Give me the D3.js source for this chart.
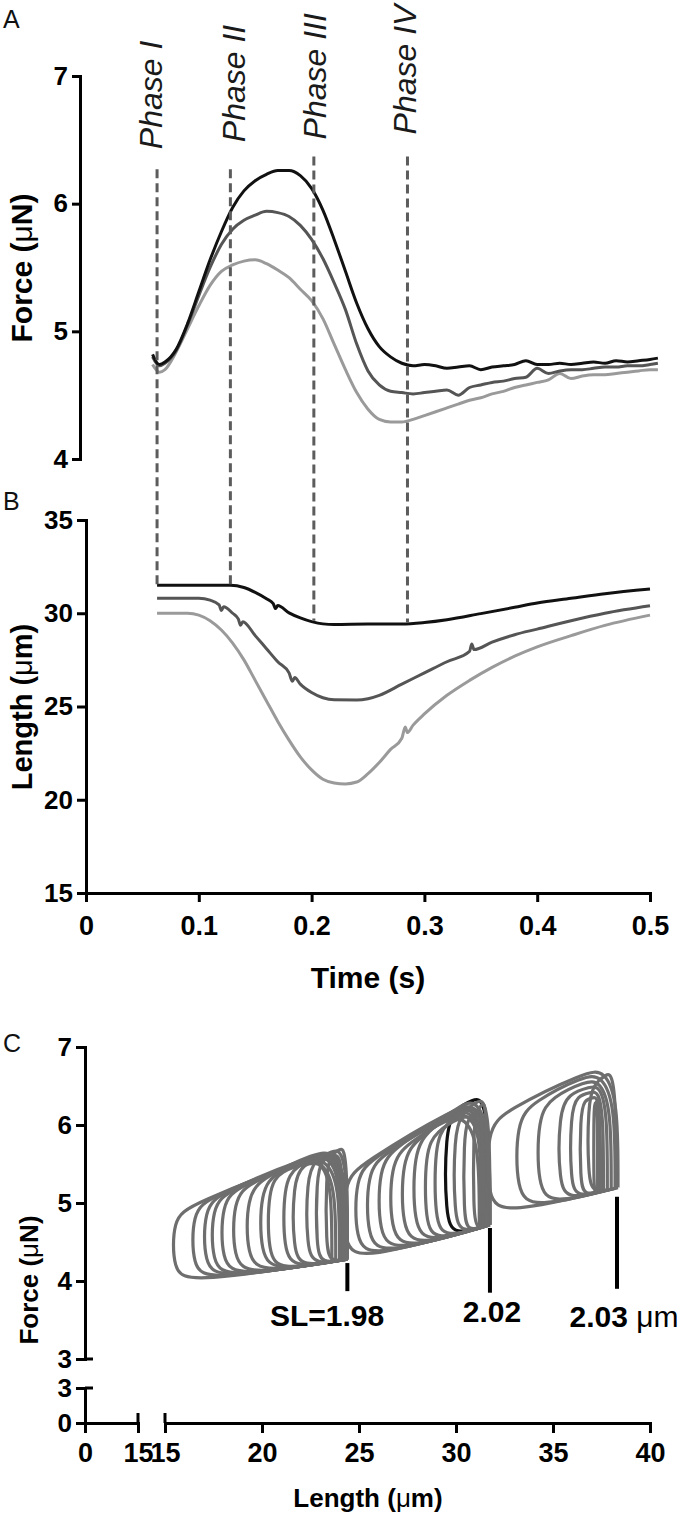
<!DOCTYPE html>
<html><head><meta charset="utf-8">
<script src="https://cdn.jsdelivr.net/npm/d3@7"></script>
<style>body{margin:0;background:#fff}svg{display:block}</style>
</head><body><svg id="c" width="680" height="1514"></svg>
<script>
// ---------- DATA ----------
// Panel A: force traces (µN) vs time (s)
const forceTime  = [0.059,0.065,0.07,0.08,0.09,0.10,0.11,0.12,0.13,0.14,0.15,0.16,0.17,0.18,0.19,0.20,0.21,0.22,0.23,0.24,0.25,0.26,0.27,0.28,0.29,
                    0.30,0.31,0.32,0.33,0.34,0.35,0.36,0.37,0.38,0.39,0.40,0.41,0.42,0.43,0.44,0.45,0.46,0.47,0.48,0.49,0.50,0.507];
const forceBlack = [4.82,4.74,4.76,4.86,5.06,5.31,5.56,5.78,5.97,6.10,6.18,6.23,6.26,6.26,6.22,6.12,5.95,5.72,5.47,5.22,5.02,4.88,4.80,4.75,4.73,
                    4.74,4.73,4.71,4.72,4.73,4.70,4.72,4.73,4.74,4.77,4.74,4.74,4.75,4.74,4.75,4.76,4.75,4.77,4.76,4.77,4.78,4.79];
const forceDark  = [4.80,4.73,4.75,4.85,5.05,5.28,5.50,5.68,5.80,5.87,5.91,5.94,5.93,5.90,5.83,5.72,5.57,5.38,5.17,4.90,4.69,4.58,4.53,4.52,4.51,
                    4.52,4.53,4.54,4.50,4.56,4.58,4.60,4.61,4.63,4.64,4.71,4.67,4.69,4.70,4.70,4.71,4.72,4.72,4.73,4.73,4.74,4.75];
const forceLight = [4.74,4.68,4.70,4.84,5.02,5.20,5.36,5.47,5.52,5.55,5.56,5.53,5.48,5.42,5.33,5.24,5.10,4.90,4.70,4.52,4.39,4.31,4.29,4.29,4.31,
                    4.34,4.37,4.40,4.43,4.46,4.48,4.51,4.53,4.56,4.58,4.60,4.62,4.67,4.63,4.65,4.66,4.66,4.67,4.68,4.69,4.70,4.70];

// Panel B: length traces (µm) vs time (s)
const lenBlackT = [0.063,0.10,0.128,0.14,0.15,0.16,0.166,0.168,0.170,0.18,0.19,0.20,0.21,0.22,0.25,0.28,0.30,0.32,0.35,0.38,0.40,0.43,0.46,0.50];
const lenBlack  = [31.5,31.5,31.5,31.38,31.12,30.78,30.52,30.25,30.42,30.02,29.75,29.55,29.43,29.4,29.42,29.42,29.5,29.65,29.98,30.32,30.55,30.8,31.05,31.3];
const lenDarkT  = [0.063,0.10,0.11,0.118,0.120,0.122,0.13,0.135,0.137,0.139,0.15,0.16,0.17,0.18,0.183,0.185,0.19,0.20,0.21,0.22,0.24,0.25,0.26,0.28,0.30,0.32,0.34,0.342,0.344,0.36,0.38,0.40,0.43,0.46,0.50];
const lenDark   = [30.8,30.8,30.7,30.45,30.15,30.35,30.0,29.7,29.35,29.55,28.8,28.1,27.4,26.8,26.35,26.55,26.2,25.75,25.47,25.36,25.35,25.42,25.6,26.2,26.8,27.4,27.95,28.35,28.05,28.45,28.85,29.15,29.6,30.0,30.4];
const lenLightT = [0.063,0.09,0.10,0.11,0.12,0.13,0.14,0.15,0.16,0.17,0.18,0.19,0.20,0.21,0.22,0.23,0.24,0.25,0.26,0.27,0.28,0.283,0.285,0.29,0.30,0.32,0.34,0.36,0.38,0.40,0.43,0.46,0.50];
const lenLight  = [30.0,30.0,29.9,29.6,29.1,28.4,27.5,26.4,25.3,24.2,23.2,22.3,21.6,21.1,20.9,20.85,20.95,21.4,22.0,22.7,23.3,23.9,23.6,24.0,24.6,25.6,26.4,27.1,27.7,28.2,28.8,29.35,29.9];

// Phase markers
const phaseNames = ["Phase I","Phase II","Phase III","Phase IV"];
const phaseTimes = [0.063,0.128,0.202,0.285];
const phaseTopForce = [6.27,6.27,6.37,6.37];
const phaseBottomLength = [31.5,31.5,29.6,29.5];

// Ticks
const forceTicksA = [4,5,6,7];
const lengthTicksB = [15,20,25,30,35];
const timeTicks = [0,0.1,0.2,0.3,0.4,0.5];
const forceTicksC = [3,4,5,6,7];
const forceTicksC0 = [0,3];
const lengthTicksC0 = [0,15];
const lengthTicksC = [15,20,25,30,35,40];

// Panel C: work loops, three sarcomere-length groups
// passive baseline per group: [L at left, F at left, L at right, F at right]
const baseG1 = [15.4,3.97,24.4,4.28];
const baseG2 = [24.2,4.26,31.75,4.72];
const baseG3 = [31.6,4.85,38.4,5.20];
const g1Lmin = [15.4,16.4,17.0,17.4,17.9,18.5,19.2,19.9,20.3,21.1,21.6,22.3,22.8,23.3];
const g1L0   = [24.4,24.3,24.4,24.0,24.2,23.8,24.4,24.1,23.6,24.3,24.0,24.4,24.2,24.4];
const g1Fpk  = [5.62,5.60,5.64,5.56,5.60,5.54,5.66,5.60,5.52,5.64,5.58,5.68,5.62,5.70];
const g1Flft = [4.98,5.08,5.14,5.17,5.22,5.27,5.33,5.40,5.42,5.48,5.50,5.56,5.56,5.62];
const g2Lmin = [24.2,24.8,25.4,26.0,26.6,27.2,27.8,28.4,28.9,29.9,30.4,30.9];
const g2L0   = [31.75,31.6,31.4,31.7,31.2,31.5,31.75,31.3,31.6,31.75,31.4,31.6];
const g2Fpk  = [6.26,6.22,6.15,6.25,6.10,6.18,6.30,6.12,6.22,6.32,6.20,6.28];
const g2Flft = [5.50,5.58,5.64,5.72,5.76,5.83,5.93,5.92,6.02,6.15,6.08,6.18];
const blackLoop = [31.7,29.45,6.34,6.2]; // L0, Lmin, Fpeak, Fleft
const g3Lmin = [31.6,33.1,34.2,35.3,35.9,36.4,36.8,37.1];
const g3L0   = [38.35,38.2,38.0,37.8,37.6,37.45,38.25,37.3];
const g3Fpk  = [6.70,6.64,6.57,6.50,6.43,6.36,6.66,6.30];
const g3Flft = [6.18,6.30,6.36,6.40,6.38,6.33,6.52,6.28];

// SL markers
const slLength = [24.4,31.75,38.3];
const slTop = [4.23,4.68,5.08];
const slBottom = [3.87,3.85,3.90];

// ---------- DRAW ----------
const FONT = '"Liberation Sans", Arial, Helvetica, sans-serif';
const svg = d3.select("#c");

const xT = d3.scaleLinear([0,0.5],[86,650]);
const yA = d3.scaleLinear([4,7],[459,76]);
const yB = d3.scaleLinear([15,35],[893,520]);
const xC0 = d3.scaleLinear([0,15],[85,138]);
const xC = d3.scaleLinear([15,40],[165,650]);
const yC = d3.scaleLinear([3,7],[1359,1047]);
const yC0 = d3.scaleLinear([0,3],[1423,1388]);

function styleAxis(g, fs){
  g.attr("font-family", null).attr("font-size", null);
  g.select(".domain").attr("stroke","#000").attr("stroke-width",3).attr("stroke-linecap","square");
  g.selectAll(".tick line").attr("stroke","#000").attr("stroke-width",3);
  g.selectAll(".tick text").attr("fill","#000")
    .style("font-family",FONT).style("font-weight","bold").style("font-size",fs+"px");
}
const fmt = d => String(d);

// Panel letters
[["A",28],["B",510],["C",1052]].forEach(([t,y])=>{
  svg.append("text").attr("x",3).attr("y",y).text(t)
    .style("font-family",FONT).style("font-size","25px").attr("fill","#111");
});

// ---- Panel A ----
svg.append("g").attr("transform","translate(80,0)")
  .call(d3.axisLeft(yA).tickValues(forceTicksA).tickFormat(fmt).tickSize(8).tickSizeOuter(0).tickPadding(4))
  .call(g=>styleAxis(g,26));

function ytitle(x,y,label,unit,fs){
  const t = svg.append("text").attr("transform",`translate(${x},${y}) rotate(-90)`)
    .attr("text-anchor","middle").style("font-family",FONT).style("font-size",fs+"px")
    .style("font-weight","bold").attr("fill","#000");
  t.append("tspan").text(label+" (");
  t.append("tspan").text(unit[0]).style("font-weight","normal");
  t.append("tspan").text(unit.slice(1)+")");
}
ytitle(32,268,"Force","μN",30);

const lineA = d3.line().x((d,i)=>xT(forceTime[i])).y(d=>yA(d)).curve(d3.curveMonotoneX);
[[forceLight,"#9a9a9a"],[forceDark,"#555"],[forceBlack,"#111"]].forEach(([arr,c])=>{
  svg.append("path").attr("d",lineA(arr)).attr("fill","none").attr("stroke",c)
    .attr("stroke-width",3).attr("stroke-linejoin","round");
});

// ---- Panel B ----
svg.append("g").attr("transform","translate(86,0)")
  .call(d3.axisLeft(yB).tickValues(lengthTicksB).tickFormat(fmt).tickSize(9).tickSizeOuter(0).tickPadding(4))
  .call(g=>styleAxis(g,26));
svg.append("g").attr("transform","translate(0,893)")
  .call(d3.axisBottom(xT).tickValues(timeTicks).tickFormat(fmt).tickSize(9).tickSizeOuter(0).tickPadding(14))
  .call(g=>styleAxis(g,27));
ytitle(32,707,"Length","μm",29);
svg.append("text").attr("x",368).attr("y",988).attr("text-anchor","middle")
  .style("font-family",FONT).style("font-size","30px").style("font-weight","bold").text("Time (s)");

[[lenLightT,lenLight,"#9a9a9a"],[lenDarkT,lenDark,"#555"],[lenBlackT,lenBlack,"#111"]].forEach(([tt,arr,c])=>{
  const ln = d3.line().x((d,i)=>xT(tt[i])).y(d=>yB(d)).curve(d3.curveMonotoneX);
  svg.append("path").attr("d",ln(arr)).attr("fill","none").attr("stroke",c)
    .attr("stroke-width",3).attr("stroke-linejoin","round");
});

// Phase dashed lines and labels
const labelGap = [20,27,17,22];
const labelShift = [5,15,12,9];
phaseTimes.forEach((t,i)=>{
  svg.append("line").attr("x1",xT(t)).attr("x2",xT(t))
    .attr("y1",yA(phaseTopForce[i])).attr("y2",yB(phaseBottomLength[i]))
    .attr("stroke","#5c5c5c").attr("stroke-width",3).attr("stroke-dasharray","9,5");
  svg.append("text")
    .attr("transform",`translate(${xT(t)+labelShift[i]},${yA(phaseTopForce[i])-labelGap[i]}) rotate(-90)`)
    .attr("text-anchor","start")
    .style("font-family",FONT).style("font-size","32px").style("font-style","italic")
    .attr("fill","#1a1a1a").text(phaseNames[i]);
});

// ---- Panel C ----
svg.append("g").attr("transform","translate(85,0)")
  .call(d3.axisLeft(yC).tickValues(forceTicksC).tickFormat(fmt).tickSize(9).tickSizeOuter(0).tickPadding(4))
  .call(g=>styleAxis(g,26));
svg.append("g").attr("transform","translate(85,0)")
  .call(d3.axisLeft(yC0).tickValues(forceTicksC0).tickFormat(fmt).tickSize(9).tickSizeOuter(0).tickPadding(4))
  .call(g=>styleAxis(g,26));
svg.append("g").attr("transform","translate(0,1423)")
  .call(d3.axisBottom(xC0).tickValues(lengthTicksC0).tickFormat(fmt).tickSize(10).tickSizeOuter(0).tickPadding(10))
  .call(g=>styleAxis(g,27));
svg.append("g").attr("transform","translate(0,1423)")
  .call(d3.axisBottom(xC).tickValues(lengthTicksC).tickFormat(fmt).tickSize(10).tickSizeOuter(0).tickPadding(10))
  .call(g=>styleAxis(g,27));
// break marks (ticks that cross the axis)
[[85,93,yC(3),yC(3)],[85,93,yC0(3),yC0(3)],[xC0(15),xC0(15),1413,1423],[xC(15),xC(15),1413,1423]].forEach(([x1,x2,y1,y2])=>{
  svg.append("line").attr("x1",x1).attr("x2",x2).attr("y1",y1).attr("y2",y2)
    .attr("stroke","#000").attr("stroke-width",3);
});
ytitle(38,1280,"Force","μN",26);
{
  const t = svg.append("text").attr("x",368).attr("y",1507).attr("text-anchor","middle")
    .style("font-family",FONT).style("font-size","26px").style("font-weight","bold");
  t.append("tspan").text("Length (");
  t.append("tspan").text("μ").style("font-weight","normal");
  t.append("tspan").text("m)");
}

// loops
const loopLine = d3.line().x(d=>xC(d[0])).y(d=>yC(d[1])).curve(d3.curveBasis);
function loopPts(L0,Lmin,Fp,Fl,base){
  const bs = d3.scaleLinear([base[0],base[2]],[base[1],base[3]]);
  const b0 = bs(L0), b1 = bs(Lmin), W = L0-Lmin;
  const h = Fp-b0, hl = Fl-b1;
  const c = Math.min(1.6,0.35*W), e = Math.min(0.9,0.2*W);
  return [[L0,b0],[L0,b0],[L0,b0],[L0,Fp-0.25*h],[L0-0.45*c,Fp],[L0-c,Fp-0.01],[Lmin+e,Fl],
          [Lmin,Fl-0.18*hl],[Lmin,b1+0.15*hl],[Lmin+e,b1],[L0,b0],[L0,b0],[L0,b0]];
}
const GRAY = "#6e6e6e";
function drawLoop(pts,color){
  svg.append("path").attr("d",loopLine(pts)).attr("fill","none").attr("stroke",color)
    .attr("stroke-width",3.2).attr("stroke-linejoin","round");
}
g1Lmin.forEach((m,i)=>drawLoop(loopPts(g1L0[i],m,g1Fpk[i],g1Flft[i],baseG1),GRAY));
drawLoop(loopPts(blackLoop[0],blackLoop[1],blackLoop[2],blackLoop[3],baseG2),"#111");
g2Lmin.forEach((m,i)=>drawLoop(loopPts(g2L0[i],m,g2Fpk[i],g2Flft[i],baseG2),GRAY));
g3Lmin.forEach((m,i)=>drawLoop(loopPts(g3L0[i],m,g3Fpk[i],g3Flft[i],baseG3),GRAY));

// SL markers
slLength.forEach((L,i)=>{
  svg.append("line").attr("x1",xC(L)).attr("x2",xC(L)).attr("y1",yC(slTop[i])).attr("y2",yC(slBottom[i]))
    .attr("stroke","#000").attr("stroke-width",4);
});
function slLabel(x,y,parts){
  const t = svg.append("text").attr("x",x).attr("y",y).attr("text-anchor","middle")
    .style("font-family",FONT).style("font-size","30px").style("font-weight","bold");
  parts.forEach(([s,w])=>t.append("tspan").text(s).style("font-weight",w));
}
slLabel(327,1326,[["SL=1.98","bold"]]);
slLabel(492,1322,[["2.02","bold"]]);
slLabel(624,1327,[["2.03 ","bold"],["μm","normal"]]);
</script></body></html>
